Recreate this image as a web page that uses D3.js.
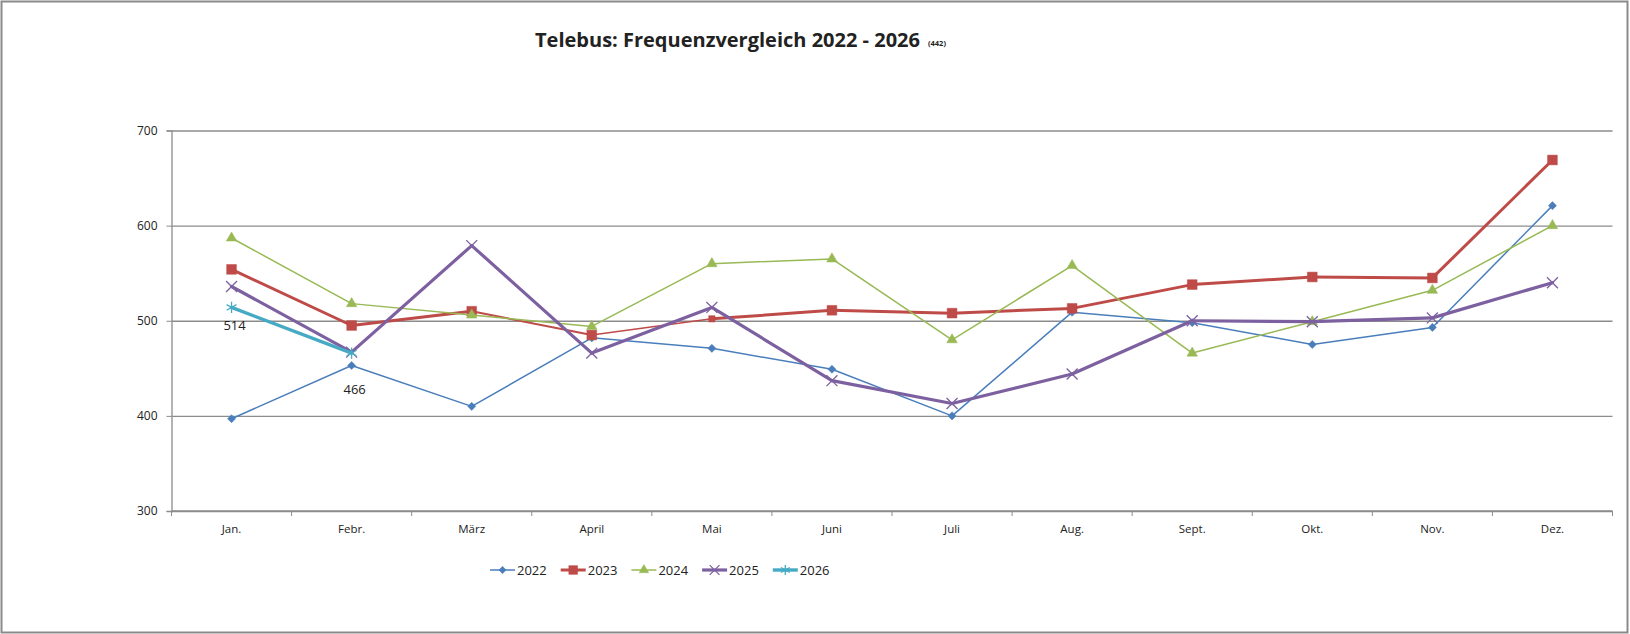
<!DOCTYPE html>
<html>
<head>
<meta charset="utf-8">
<script src="https://cdn.jsdelivr.net/npm/d3@7"></script>
<style>
  body { margin: 0; background: #fff; }
  text { font-family: "Open Sans", "Noto Sans", sans-serif; fill: #222; }
</style>
</head>
<body>
<div id="chart"></div>
<script>
"use strict";

// categories and values
var months = ["Jan.", "Febr.", "März", "April", "Mai", "Juni", "Juli", "Aug.", "Sept.", "Okt.", "Nov.", "Dez."];
var years = ["2022", "2023", "2024", "2025", "2026"];
var v2022 = [397, 453, 410, 482, 471, 449, 400, 509, 498, 475, 493, 621];
var v2023 = [554, 495, 510, 485, 502, 511, 508, 513, 538, 546, 545, 669];
var v2024 = [587, 518, 506, 494, 560, 565, 480, 558, 466, 499, 532, 600];
var v2025 = [536, 467, 579, 466, 514, 437, 413, 444, 500, 499, 503, 540];
var v2026 = [514, 466];
var yTicks = [300, 400, 500, 600, 700];

var seriesValues = [v2022, v2023, v2024, v2025, v2026];

// look of each series (Excel default palette)
var colorSet = d3.scaleOrdinal().domain(years)
  .range(["#4A7EBB", "#BE4B48", "#98B954", "#7D60A0", "#46AAC5"]);
var widths = { "2022": 1.5, "2023": 3, "2024": 1.5, "2025": 3.2, "2026": 3.4 };
var symbols = {
  "2022": { type: d3.symbolDiamond2, size: 42, fill: true },
  "2023": { type: d3.symbolSquare, size: 95, fill: true },
  "2024": { type: d3.symbolTriangle, size: 48, fill: true },
  "2025": { type: d3.symbolTimes, size: 80, fill: false },
  "2026": { type: d3.symbolAsterisk, size: 90, fill: false }
};

var W = 1630, H = 634;
var margin = { top: 130.5, right: 17.5, bottom: 123, left: 171.5 };
var w = W - margin.left - margin.right,
    h = H - margin.top - margin.bottom;

var svg = d3.select("#chart").append("svg")
  .attr("width", W)
  .attr("height", H);

// outer frame
svg.append("rect")
  .attr("x", 1.5).attr("y", 1.5)
  .attr("width", W - 4).attr("height", H - 3)
  .attr("fill", "none")
  .attr("stroke", "#8a8a8a")
  .attr("stroke-width", 2);

// title
svg.append("text")
  .attr("x", 535).attr("y", 47)
  .style("font-size", "20px")
  .style("font-weight", "bold")
  .attr("textLength", 385)
  .attr("lengthAdjust", "spacingAndGlyphs")
  .text("Telebus: Frequenzvergleich 2022 - 2026");
svg.append("text")
  .attr("x", 928).attr("y", 46)
  .style("font-size", "7.5px")
  .style("font-weight", "bold")
  .text("(442)");

var g = svg.append("g")
  .attr("transform", "translate(" + margin.left + "," + margin.top + ")");

var x = d3.scaleBand().domain(months).range([0, w]).padding(0);
var y = d3.scaleLinear().domain([300, 700]).range([h, 0]);
var cx = d => x(d) + x.bandwidth() / 2;

// horizontal gridlines
g.append("g")
  .attr("class", "grid")
  .call(d3.axisLeft(y).tickValues(yTicks).tickSize(-w).tickFormat(""))
  .call(s => s.select(".domain").remove())
  .call(s => s.selectAll("line").attr("stroke", "#8c8c8c").attr("stroke-width", 1.3));

// y axis
g.append("g")
  .call(d3.axisLeft(y).tickValues(yTicks).tickSize(5).tickPadding(9))
  .call(s => s.select(".domain").attr("stroke", "#8c8c8c").attr("stroke-width", 1.3))
  .call(s => s.selectAll("line").attr("stroke", "#8c8c8c"))
  .call(s => s.selectAll("text").style("font-size", "12px").style("font-family", "Open Sans").attr("fill", "#222"));

// x axis: ticks between categories, labels centred in each band
var xAxisG = g.append("g").attr("transform", "translate(0," + h + ")");
xAxisG.append("line")
  .attr("x1", 0).attr("x2", w)
  .attr("stroke", "#8c8c8c").attr("stroke-width", 1.3);
xAxisG.selectAll("line.tick")
  .data(months.map(m => x(m)).concat([w]))
  .join("line")
    .attr("class", "tick")
    .attr("x1", d => d).attr("x2", d => d)
    .attr("y1", 0).attr("y2", 5)
    .attr("stroke", "#8c8c8c");
xAxisG.selectAll("text")
  .data(months)
  .join("text")
    .attr("x", d => cx(d))
    .attr("y", 22)
    .attr("text-anchor", "middle")
    .style("font-size", "11.5px")
    .text(d => d);

var line = d3.line()
  .x(d => cx(d.month))
  .y(d => y(d.value));

var series = years.map(function(yr, i) {
  return {
    year: yr,
    points: seriesValues[i].map((v, j) => ({ month: months[j], value: v }))
  };
});

var lines = g.append("g").attr("id", "paths-group");

series.forEach(function(s) {
  var pts = s.points;
  // the 2023 line is drawn thinner between März, April and Mai in the original
  for (var k = 0; k < pts.length - 1; k++) {
    var sw = widths[s.year];
    if (s.year === "2023" && k === 2) sw = 2;
    if (s.year === "2023" && k === 3) sw = 1.5;
    lines.append("path")
      .datum([pts[k], pts[k + 1]])
      .attr("d", line)
      .attr("fill", "none")
      .attr("stroke", colorSet(s.year))
      .attr("stroke-width", sw)
      .attr("stroke-linejoin", "round")
      .attr("stroke-linecap", "round");
  }
  var sym = symbols[s.year];
  lines.selectAll(null)
    .data(pts)
    .join("path")
      .attr("transform", d => "translate(" + cx(d.month) + "," + y(d.value) + ")")
      .attr("d", (d, j) => d3.symbol(sym.type, (s.year === "2023" && j === 4) ? 40 : sym.size)())
      .attr("fill", sym.fill ? colorSet(s.year) : "none")
      .attr("stroke", colorSet(s.year))
      .attr("stroke-width", sym.fill ? 0.5 : 1.3);
});

// data labels for 2026
g.append("g").selectAll("text")
  .data(series[4].points)
  .join("text")
    .attr("x", d => cx(d.month) + 3)
    .attr("y", d => y(d.value) + (d.value > 500 ? 23 : 41))
    .attr("text-anchor", "middle")
    .style("font-size", "13px")
    .text(d => d.value);

// legend
var legend = svg.append("g").attr("id", "legend-group")
  .attr("transform", "translate(490,570)");
var item = legend.selectAll("g")
  .data(years)
  .join("g")
    .attr("transform", (d, i) => "translate(" + (i * 70.7) + ",0)");
item.append("line")
  .attr("x1", 0).attr("x2", 25)
  .attr("stroke", d => colorSet(d))
  .attr("stroke-width", d => widths[d]);
item.append("path")
  .attr("transform", "translate(12.5,0)")
  .attr("d", d => d3.symbol(symbols[d].type, symbols[d].size * 0.8)())
  .attr("fill", d => symbols[d].fill ? colorSet(d) : "none")
  .attr("stroke", d => colorSet(d))
  .attr("stroke-width", d => symbols[d].fill ? 0.5 : 1.3);
item.append("text")
  .attr("x", 27)
  .attr("y", 0)
  .attr("dy", "0.35em")
  .style("font-size", "13px")
  .text(d => d);
</script>
</body>
</html>
